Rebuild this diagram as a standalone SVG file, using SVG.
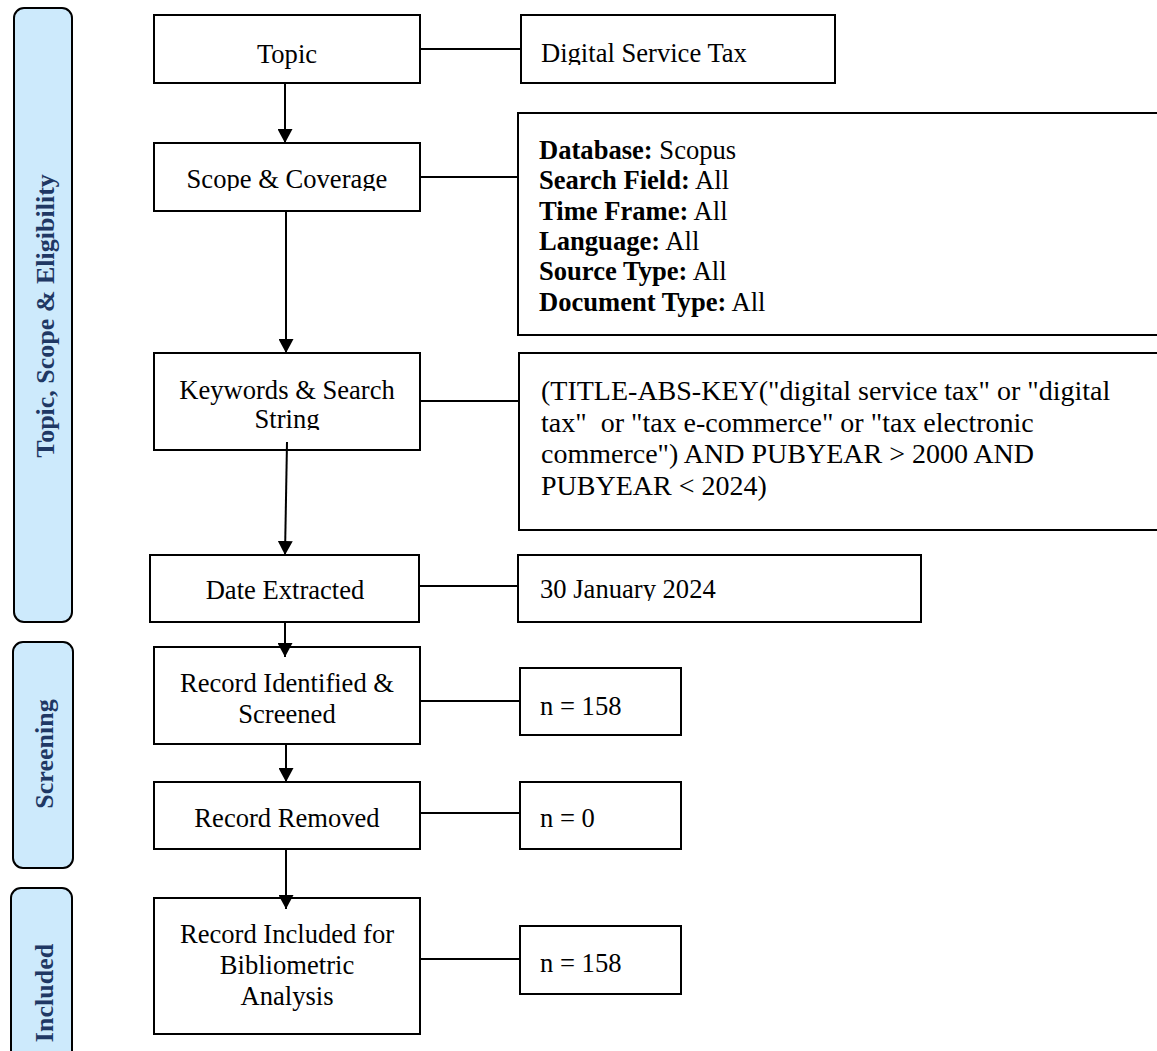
<svg xmlns="http://www.w3.org/2000/svg" width="1157" height="1051" viewBox="0 0 1157 1051">
<style>
.box{fill:#fff;stroke:#000;stroke-width:2}
.bar{fill:#cdeafc;stroke:#000;stroke-width:2}
.t{font-family:"Liberation Serif","Times New Roman",serif;font-size:28px;fill:#000;transform-box:fill-box;transform:scaleX(0.95)}
.c{text-anchor:middle;transform-origin:center}
.l{transform-origin:left center}
.q{font-family:"Liberation Serif","Times New Roman",serif;font-size:28px;fill:#000}
.b{font-weight:bold}
.side{font-family:"Liberation Serif","Times New Roman",serif;font-size:26px;font-weight:bold;fill:#1f3864;text-anchor:middle}
.ln{stroke:#000;stroke-width:2;fill:none}
.ar{stroke:#000;stroke-width:2;fill:none;marker-end:url(#ah)}
</style>
<defs>
<marker id="ah" viewBox="0 0 14 15" refX="14" refY="7.5" markerWidth="14" markerHeight="15" markerUnits="userSpaceOnUse" orient="auto">
<path d="M0,0 L14,7.5 L0,15 z" fill="#000"/>
</marker>
<clipPath id="clipDst"><rect x="521" y="15" width="314" height="50"/></clipPath>
<clipPath id="clipScope"><rect x="154" y="143" width="266" height="48"/></clipPath>
<clipPath id="clipKw"><rect x="154" y="353" width="266" height="77"/></clipPath>
<clipPath id="clipJan"><rect x="518" y="555" width="403" height="46"/></clipPath>
</defs>
<rect width="1157" height="1051" fill="#fff"/>
<g id="phase-topic"><rect class="bar" x="14" y="8" width="58" height="614" rx="10"/><text class="side" transform="translate(54,316) rotate(-90)">Topic, Scope &amp; Eligibility</text></g>
<g id="phase-screening"><rect class="bar" x="13" y="642" width="60" height="226" rx="10"/><text class="side" transform="translate(53,754) rotate(-90)">Screening</text></g>
<g id="phase-included"><rect class="bar" x="11" y="888" width="61" height="210" rx="10"/><text class="side" transform="translate(53,993) rotate(-90)">Included</text></g>

<g id="topic"><rect class="box" x="154" y="15" width="266" height="68"/><text class="t c" x="287" y="63">Topic</text></g>
<g id="topic-value"><rect class="box" x="521" y="15" width="314" height="68"/><g clip-path="url(#clipDst)"><text class="t l" x="541" y="62">Digital Service Tax</text></g></g>
<g id="scope"><rect class="box" x="154" y="143" width="266" height="68"/><g clip-path="url(#clipScope)"><text class="t c" x="287" y="188">Scope &amp; Coverage</text></g></g>
<g id="scope-value"><rect class="box" x="518" y="113" width="680" height="222"/>
<text class="t l" x="539" y="159"><tspan class="b">Database:</tspan> Scopus</text>
<text class="t l" x="539" y="189.5"><tspan class="b">Search Field:</tspan> All</text>
<text class="t l" x="539" y="220"><tspan class="b">Time Frame:</tspan> All</text>
<text class="t l" x="539" y="250"><tspan class="b">Language:</tspan> All</text>
<text class="t l" x="539" y="280.5"><tspan class="b">Source Type:</tspan> All</text>
<text class="t l" x="539" y="311"><tspan class="b">Document Type:</tspan> All</text>
</g>
<g id="keywords"><rect class="box" x="154" y="353" width="266" height="97"/><g clip-path="url(#clipKw)"><text class="t c" x="287" y="399">Keywords &amp; Search</text><text class="t c" x="287" y="428">String</text></g></g>
<g id="keywords-value"><rect class="box" x="519" y="353" width="680" height="177"/>
<text class="q" x="541" y="400" xml:space="preserve">(TITLE-ABS-KEY("digital service tax" or "digital</text>
<text class="q" x="541" y="432" xml:space="preserve">tax"  or "tax e-commerce" or "tax electronic</text>
<text class="q" x="541" y="463" xml:space="preserve">commerce") AND PUBYEAR &gt; 2000 AND</text>
<text class="q" x="541" y="495" xml:space="preserve">PUBYEAR &lt; 2024)</text>
</g>
<g id="date"><rect class="box" x="150" y="555" width="269" height="67"/><text class="t c" x="285" y="599">Date Extracted</text></g>
<g id="date-value"><rect class="box" x="518" y="555" width="403" height="67"/><g clip-path="url(#clipJan)"><text class="t l" x="540" y="598">30 January 2024</text></g></g>
<g id="identified"><rect class="box" x="154" y="647" width="266" height="97"/><text class="t c" x="287" y="692">Record Identified &amp;</text><text class="t c" x="287" y="723">Screened</text></g>
<g id="identified-value"><rect class="box" x="520" y="668" width="161" height="67"/><text class="t l" x="540" y="715">n = 158</text></g>
<g id="removed"><rect class="box" x="154" y="782" width="266" height="67"/><text class="t c" x="287" y="827">Record Removed</text></g>
<g id="removed-value"><rect class="box" x="520" y="782" width="161" height="67"/><text class="t l" x="540" y="827">n = 0</text></g>
<g id="included"><rect class="box" x="154" y="898" width="266" height="136"/><text class="t c" x="287" y="943">Record Included for</text><text class="t c" x="287" y="974">Bibliometric</text><text class="t c" x="287" y="1005">Analysis</text></g>
<g id="included-value"><rect class="box" x="520" y="926" width="161" height="68"/><text class="t l" x="540" y="972">n = 158</text></g>

<g id="connectors">
<line class="ar" x1="285" y1="83" x2="285" y2="143"/>
<line class="ar" x1="286" y1="211" x2="286" y2="353"/>
<line class="ar" x1="287" y1="442" x2="285" y2="555"/>
<line class="ar" x1="285" y1="622" x2="285" y2="657"/>
<line class="ar" x1="286" y1="744" x2="286" y2="782"/>
<line class="ar" x1="286" y1="849" x2="286" y2="909"/>
<line class="ln" x1="420" y1="49" x2="521" y2="49"/>
<line class="ln" x1="420" y1="177" x2="518" y2="177"/>
<line class="ln" x1="420" y1="401" x2="519" y2="401"/>
<line class="ln" x1="419" y1="586" x2="518" y2="586"/>
<line class="ln" x1="420" y1="701" x2="520" y2="701"/>
<line class="ln" x1="420" y1="813" x2="520" y2="813"/>
<line class="ln" x1="420" y1="959" x2="520" y2="959"/>
</g>
</svg>
